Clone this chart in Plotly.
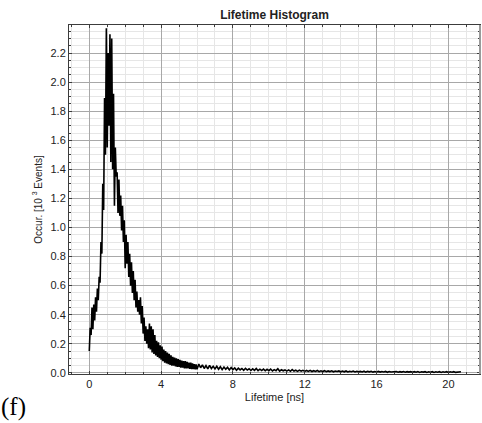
import plotly.graph_objects as go

# ---- data ----
# segment 1: fine bins, 0.00 .. 6.00 ns
seg1_start = 0.0
seg1_bin = 0.05
seg1_counts = [
    0.15, 0.31, 0.26, 0.45, 0.30, 0.47, 0.36, 0.52, 0.42, 0.58,
    0.50, 0.66, 0.62, 0.90, 0.82, 1.30, 1.12, 1.89, 1.50, 2.37,
    1.55, 2.20, 1.70, 2.33, 1.45, 2.30, 1.40, 1.92, 1.15, 1.55,
    1.35, 1.38, 1.10, 1.33, 1.08, 1.22, 0.98, 1.15, 0.90, 1.05,
    0.72, 0.95, 0.75, 0.90, 0.66, 0.82, 0.60, 0.76, 0.55, 0.70,
    0.50, 0.64, 0.45, 0.56, 0.42, 0.50, 0.40, 0.52, 0.34, 0.46,
    0.27, 0.38, 0.22, 0.32, 0.20, 0.30, 0.17, 0.34, 0.16, 0.32,
    0.14, 0.30, 0.13, 0.26, 0.12, 0.22, 0.11, 0.21, 0.10, 0.19,
    0.09, 0.18, 0.08, 0.16, 0.07, 0.15, 0.065, 0.14, 0.06, 0.13,
    0.055, 0.12, 0.05, 0.11, 0.05, 0.105, 0.045, 0.10, 0.04, 0.095,
    0.04, 0.09, 0.035, 0.085, 0.035, 0.08, 0.03, 0.08, 0.03, 0.075,
    0.03, 0.07, 0.028, 0.07, 0.026, 0.065, 0.025, 0.06, 0.024, 0.058,
    0.024,
]
# segment 2: coarser bins, 6.1 .. 20.7 ns
seg2_start = 6.1
seg2_bin = 0.1
seg2_counts = [
    0.060, 0.035, 0.055, 0.030, 0.050, 0.028, 0.052, 0.030, 0.045, 0.027,
    0.045, 0.025, 0.042, 0.022, 0.040, 0.024, 0.038, 0.020, 0.036, 0.022,
    0.034, 0.018, 0.032, 0.020, 0.030, 0.017, 0.031, 0.019, 0.028, 0.016,
    0.027, 0.017, 0.030, 0.015, 0.025, 0.016, 0.026, 0.014, 0.024, 0.015,
    0.026, 0.013, 0.022, 0.015, 0.028, 0.012, 0.021, 0.014, 0.020, 0.012,
    0.020, 0.011, 0.022, 0.012, 0.018, 0.010, 0.019, 0.012, 0.017, 0.010,
    0.016, 0.010, 0.017, 0.009, 0.015, 0.010, 0.016, 0.008, 0.014, 0.009,
    0.015, 0.008, 0.013, 0.009, 0.014, 0.007, 0.012, 0.009, 0.013, 0.007,
    0.012, 0.007, 0.013, 0.006, 0.011, 0.008, 0.012, 0.006, 0.011, 0.007,
    0.010, 0.006, 0.011, 0.005, 0.010, 0.007, 0.011, 0.005, 0.009, 0.006,
    0.010, 0.005, 0.009, 0.006, 0.010, 0.004, 0.009, 0.006, 0.008, 0.005,
    0.009, 0.004, 0.008, 0.005, 0.009, 0.004, 0.008, 0.005, 0.008, 0.004,
    0.008, 0.004, 0.009, 0.003, 0.007, 0.005, 0.008, 0.003, 0.007, 0.004,
    0.008, 0.003, 0.007, 0.004, 0.008, 0.003, 0.007, 0.004, 0.008, 0.003,
    0.007, 0.004, 0.008, 0.003, 0.006, 0.004, 0.007,
]

x_ticks = [0, 4, 8, 12, 16, 20]
y_ticks = [0.0, 0.2, 0.4, 0.6, 0.8, 1.0, 1.2, 1.4, 1.6, 1.8, 2.0, 2.2]

title_text = "Lifetime Histogram"
x_title = "Lifetime [ns]"
y_title = "Occur. [10 <sup>3</sup> Events]"
panel_label = "(f)"

# ---- build series ----
t = [round(seg1_start + i * seg1_bin, 3) for i in range(len(seg1_counts))]
t += [round(seg2_start + i * seg2_bin, 3) for i in range(len(seg2_counts))]
counts = seg1_counts + seg2_counts

W, H = 482, 423
L, R, T, B = 69, 2, 25, 49

fig = go.Figure()
fig.add_trace(go.Scatter(
    x=t, y=counts, mode="lines",
    line=dict(color="black", width=1.6),
    showlegend=False,
))

font_family = "Liberation Sans, Arial, sans-serif"
axis_common = dict(
    showline=True, linecolor="#3c3c3c", linewidth=1, mirror="allticks",
    ticks="inside", ticklen=3, tickcolor="#3c3c3c",
    gridcolor="#a8a8a8", gridwidth=1, zeroline=False,
    tickfont=dict(family=font_family, size=11, color="#222"),
)

fig.update_xaxes(
    range=[-1.13, 21.76], tickvals=x_ticks, **axis_common,
    minor=dict(dtick=1, tick0=0, showgrid=True, gridcolor="#e6e6e6",
               ticks="inside", ticklen=2, tickcolor="#3c3c3c"),
    title=dict(text=x_title, font=dict(family=font_family, size=11, color="#222"),
               standoff=4),
)
fig.update_yaxes(
    range=[-0.008, 2.393], tickvals=y_ticks, tickformat=".1f", **axis_common,
    minor=dict(dtick=0.05, tick0=0, showgrid=True, gridcolor="#e6e6e6",
               ticks="inside", ticklen=2, tickcolor="#3c3c3c"),
    title=dict(text=y_title, font=dict(family=font_family, size=10, color="#222"),
               standoff=6),
)

fig.add_shape(type="line", xref="paper", yref="paper", x0=1, x1=1, y0=0, y1=1,
              line=dict(color="#9a9a9a", width=2))

fig.add_annotation(
    text=panel_label, xref="paper", yref="paper",
    x=(13 - L) / (W - L - R), y=(H - B - 407) / (H - T - B),
    xanchor="center", yanchor="middle", showarrow=False,
    font=dict(family="Liberation Serif, DejaVu Serif, serif", size=25, color="black"),
)

fig.update_layout(
    width=W, height=H,
    margin=dict(l=L, r=R, t=T, b=B, autoexpand=False),
    paper_bgcolor="white", plot_bgcolor="white",
    title=dict(text="<b>" + title_text + "</b>", x=(L + (W - L - R) / 2) / W, xanchor="center",
               y=1 - 15 / H, yanchor="middle",
               font=dict(family=font_family, size=12, color="#222")),
)

fig.write_html("out.html")
